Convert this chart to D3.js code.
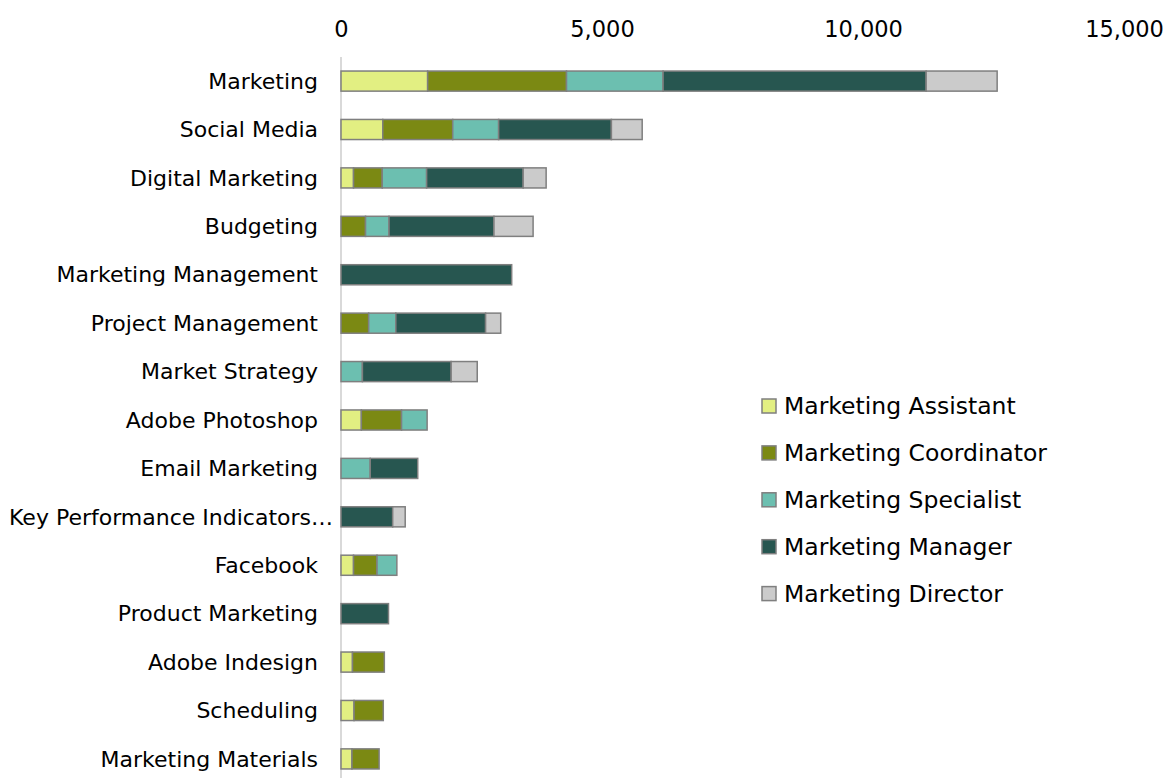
<!DOCTYPE html>
<html><head><meta charset="utf-8">
<script src="https://cdn.jsdelivr.net/npm/d3@7"></script>
<style>body{margin:0;background:#fff}svg{display:block}</style>
</head><body>
<svg id="chart" width="1174" height="778"></svg>
<script>
const categories = ["Marketing","Social Media","Digital Marketing","Budgeting","Marketing Management","Project Management","Market Strategy","Adobe Photoshop","Email Marketing","Key Performance Indicators…","Facebook","Product Marketing","Adobe Indesign","Scheduling","Marketing Materials"];
const seriesNames = ["Marketing Assistant","Marketing Coordinator","Marketing Specialist","Marketing Manager","Marketing Director"];
const assistant   = [1660, 800, 240,   0,    0,   0,   0, 390,   0,   0, 240,   0, 220, 250, 210];
const coordinator = [2660,1340, 550, 470,    0, 530,   0, 770,   0,   0, 450,   0, 610, 560, 520];
const specialist  = [1850, 880, 850, 450,    0, 520, 410, 490, 560,   0, 380,   0,   0,   0,   0];
const manager     = [5040,2160,1850,2010, 3270,1720,1700,   0, 910, 990,   0, 910,   0,   0,   0];
const director    = [1360, 590, 440, 750,    0, 290, 500,   0,   0, 240,   0,   0,   0,   0,   0];
const colors = ["#e2ef82","#7b8913","#6cbfb0","#275650","#cbcbcb"];
const tickValues = [0,5000,10000,15000];

const seriesValues = [assistant, coordinator, specialist, manager, director];
const rows = categories.map((c,i)=>{const o={cat:c}; seriesNames.forEach((s,j)=>o[s]=seriesValues[j][i]); return o;});
const stack = d3.stack().keys(seriesNames)(rows);

const svg = d3.select("#chart");
const FONT = "'DejaVu Sans', sans-serif";
const x = d3.scaleLinear().domain([0,15000]).range([341,1124]);
const y = d3.scaleBand().domain(categories).range([57,783]).paddingInner(0.585).paddingOuter(0.29);

// vertical axis line
svg.append("line").attr("x1",341).attr("x2",341).attr("y1",57).attr("y2",778)
  .attr("stroke","#d9d9d9").attr("stroke-width",2);

// top axis
const xAxis = svg.append("g").attr("transform","translate(0,37)")
  .call(d3.axisTop(x).tickValues(tickValues).tickFormat(d3.format(",")).tickSize(0).tickPadding(0));
xAxis.select(".domain").remove();
xAxis.selectAll("text").attr("font-family",FONT).attr("font-size",22.5).attr("fill","#000");

// bars
svg.append("g").selectAll("g").data(stack).join("g")
  .attr("fill",(d,i)=>colors[i])
  .selectAll("rect").data(d=>d.filter(p=>p[1]-p[0]>0)).join("rect")
  .attr("x",d=>x(d[0])).attr("width",d=>x(d[1])-x(d[0]))
  .attr("y",d=>y(d.data.cat)).attr("height",y.bandwidth())
  .attr("stroke","#7f7f7f").attr("stroke-width",1.5);

// category labels
svg.append("g").selectAll("text").data(categories).join("text")
  .attr("x",d=>d.endsWith("…")?333:318)
  .attr("y",d=>y(d)+y.bandwidth()/2).attr("dy","0.35em")
  .attr("text-anchor","end").attr("font-family",FONT).attr("font-size",22).attr("fill","#000")
  .text(d=>d);

// legend
const lg = svg.append("g").selectAll("g").data(seriesNames).join("g")
  .attr("transform",(d,i)=>`translate(762,${399+i*46.9})`);
lg.append("rect").attr("width",14).attr("height",14).attr("fill",(d,i)=>colors[i])
  .attr("stroke","#7f7f7f").attr("stroke-width",1.5);
lg.append("text").attr("x",22).attr("y",7).attr("dy","0.35em")
  .attr("font-family",FONT).attr("font-size",23.5).attr("fill","#000").text(d=>d);
</script>
</body></html>
